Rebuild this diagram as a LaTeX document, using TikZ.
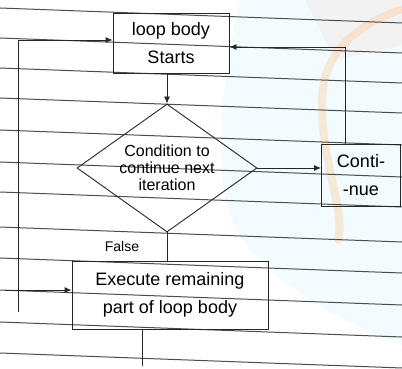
\documentclass[tikz,border=0pt]{standalone}
\usepackage{fontspec}
\setmainfont{Liberation Sans}
\usetikzlibrary{shapes.geometric,arrows.meta}
\begin{document}
\begin{tikzpicture}[x=1pt,y=-1pt,
  ink/.style={draw=black!85,line width=0.9pt},
  boxnode/.style={ink,rectangle,inner sep=0pt,align=center,font=\fontsize{18}{28}\selectfont},
  decision/.style={ink,diamond,aspect=1.4,inner sep=-4pt,align=center,font=\fontsize{16}{17}\selectfont},
  flow/.style={ink,-{Latex[length=7pt,width=6pt]}},
  rule/.style={draw=black!70,line width=1pt}]
% page and ruled paper
\fill[white] (0,0) rectangle (402,369);
\useasboundingbox (0,0) rectangle (402,369);
\fill[cyan!5] (240,0) -- (402,0) -- (402,345)
  .. controls (340,320) and (260,280) .. (232,220)
  .. controls (212,170) and (222,80) .. cycle;
\fill[black!5] (305,0) -- (402,0) -- (402,45) -- (335,60) -- cycle;
\draw[orange!45,line width=8pt,opacity=0.35,line cap=round]
  (400,10) .. controls (345,30) and (320,60) .. (322,110)
  .. controls (324,170) and (345,210) .. (338,240);
\foreach \y in {8,38,68,98,130,162,192,227,258,290,322,353}
  \draw[rule] (0,\y) -- (402,\y+15);
% flowchart
\node[boxnode,minimum width=116pt,minimum height=60pt] (start) at (171,43) {loop body\\Starts};
\node[decision,minimum width=180pt,minimum height=128pt] (cond) at (167,168) {Condition to\\continue next\\iteration};
\node[boxnode,minimum width=79pt,minimum height=62pt] (cont) at (361,175) {Conti-\\-nue};
\node[boxnode,minimum width=196pt,minimum height=68pt] (exec) at (170,295) {Execute remaining\\part of loop body};
\node[font=\fontsize{14}{16}\selectfont] (false) at (122,246) {False};
\coordinate (lt) at (18,40);
\coordinate (lb) at (18,312);
\coordinate (la) at (5,290);
\coordinate (rt) at (345,47);
\coordinate (out) at (142,366);
\draw[flow] (start.south -| cond.north) -- (cond.north);
\draw[flow] (cond.east) -- (cond.east -| cont.west);
\draw[flow] (cont.north -| rt) -- (rt) -- (start.east |- rt);
\draw[ink] (cond.south) -- (exec.north -| cond.south);
\draw[flow] (lb) -- (lt) -- (start.west |- lt);
\draw[flow] (la) -- (exec.west |- la);
\draw[ink,line width=0.5pt] (exec.south -| out) -- (out);
\end{tikzpicture}
\end{document}
